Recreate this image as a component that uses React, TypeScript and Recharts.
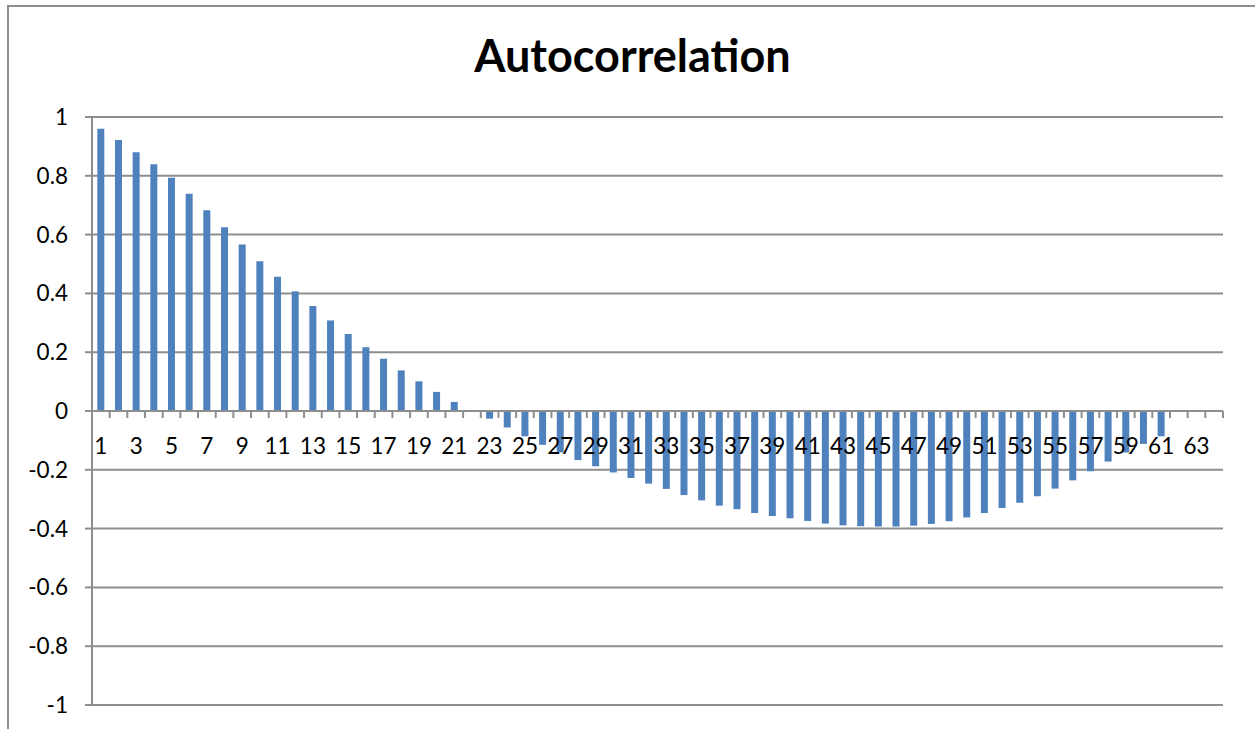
import React from "react";
import { BarChart, Bar, XAxis, YAxis, CartesianGrid, ReferenceLine } from "recharts";

const lags: number[] = [
  1, 2, 3, 4, 5, 6, 7, 8, 9, 10, 11, 12, 13, 14, 15, 16,
  17, 18, 19, 20, 21, 22, 23, 24, 25, 26, 27, 28, 29, 30, 31, 32,
  33, 34, 35, 36, 37, 38, 39, 40, 41, 42, 43, 44, 45, 46, 47, 48,
  49, 50, 51, 52, 53, 54, 55, 56, 57, 58, 59, 60, 61, 62, 63, 64,
];

const acf: (number | null)[] = [
  0.96, 0.922, 0.88, 0.839, 0.793, 0.739, 0.683, 0.625, 0.566, 0.509, 0.457, 0.407, 0.357, 0.308, 0.262, 0.217,
  0.178, 0.138, 0.101, 0.065, 0.031, 0.0, -0.026, -0.056, -0.086, -0.115, -0.141, -0.167, -0.188, -0.209, -0.228, -0.247,
  -0.265, -0.286, -0.304, -0.322, -0.334, -0.347, -0.357, -0.365, -0.374, -0.383, -0.389, -0.392, -0.393, -0.393, -0.39, -0.384,
  -0.375, -0.362, -0.347, -0.33, -0.312, -0.29, -0.264, -0.236, -0.205, -0.172, -0.141, -0.112, -0.086, null, null, null,
];

const yTicks: number[] = [-1, -0.8, -0.6, -0.4, -0.2, 0, 0.2, 0.4, 0.6, 0.8, 1];

const TITLE = "Autocorrelation";

const data = lags.map((lag, i) => ({ lag, value: acf[i] }));

const W = 1255;
const H = 729;
const M = { top: 117, right: 32, bottom: 0, left: 0 };
const Y_AXIS_W = 92;
const X_AXIS_H = 24;
const PLOT_W = W - M.left - M.right - Y_AXIS_W;
const PLOT_H = H - M.top - M.bottom - X_AXIS_H;
const BAND = PLOT_W / lags.length;

const GRID = "#8e8e8e";
const FONT = "Lato, 'Open Sans', sans-serif";
const TICK_FS = 22.5;

const XTick = (props: any) => {
  const { x, y, payload, index } = props;
  const zeroY = y - PLOT_H / 2;
  const left = x - BAND / 2;
  const right = x + BAND / 2;
  const isLast = index === lags.length - 1;
  return (
    <g>
      <line x1={left} x2={left} y1={zeroY} y2={zeroY + 7} stroke={GRID} strokeWidth={2} />
      {isLast && <line x1={right} x2={right} y1={zeroY} y2={zeroY + 7} stroke={GRID} strokeWidth={2} />}
      {index % 2 === 0 && (
        <text x={x} y={zeroY + 43} textAnchor="middle" fontSize={TICK_FS} fontFamily={FONT} fill="#000">
          {payload.value}
        </text>
      )}
    </g>
  );
};

export default function App() {
  return (
    <div style={{ position: "absolute", left: 0, top: 0, width: W, height: H, background: "#fff", overflow: "hidden" }}>
      <div
        style={{
          position: "absolute",
          left: 7,
          top: 5,
          width: W + 20,
          height: H + 20,
          borderLeft: `2px solid ${GRID}`,
          borderTop: `2px solid ${GRID}`,
        }}
      />
      <div
        style={{
          position: "absolute",
          left: 0,
          top: 28,
          width: 1265,
          textAlign: "center",
          fontFamily: FONT,
          fontWeight: 700,
          fontSize: 45,
          lineHeight: "normal",
          color: "#000",
        }}
      >
        {TITLE}
      </div>
      <div style={{ position: "absolute", left: 0, top: 0 }}>
        <BarChart width={W} height={H} data={data} margin={M} barCategoryGap="30%">
          <CartesianGrid horizontal vertical={false} stroke={GRID} strokeWidth={2} />
          <XAxis
            dataKey="lag"
            height={X_AXIS_H}
            axisLine={false}
            tickLine={false}
            tickSize={0}
            tickMargin={0}
            interval={0}
            tick={(p: any) => <XTick {...p} />}
          />
          <YAxis
            width={Y_AXIS_W}
            domain={[-1, 1]}
            ticks={yTicks}
            allowDataOverflow
            axisLine={{ stroke: GRID, strokeWidth: 2 }}
            tickLine={{ stroke: GRID, strokeWidth: 2 }}
            tickSize={7}
            tickMargin={17}
            tickFormatter={(v: number) => String(v)}
            tick={{ fontSize: TICK_FS, fontFamily: FONT, fill: "#000" }}
          />
          <ReferenceLine y={0} stroke={GRID} strokeWidth={2} />
          <Bar dataKey="value" fill="#4F81BD" isAnimationActive={false} />
        </BarChart>
      </div>
    </div>
  );
}
